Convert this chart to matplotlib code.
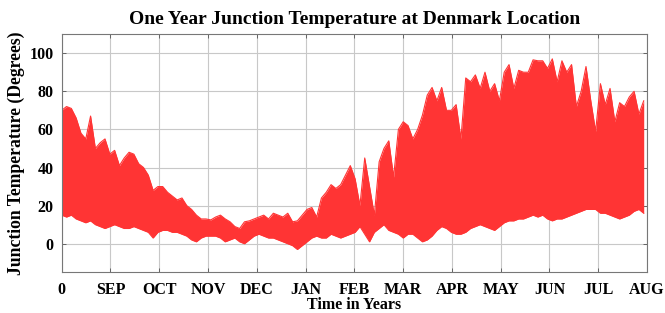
import numpy as np
import matplotlib
matplotlib.use("Agg")
import matplotlib.pyplot as plt

# day of the year (every 3rd day), daily max and min junction temperature
days = np.arange(0, 364, 3)
t_max = [70, 72, 71, 66, 58, 55, 67, 50, 53, 55, 47, 49, 41, 45, 48, 47, 42, 40, 36, 28, 30,
         30, 27, 25, 23, 24, 20, 18, 15, 13, 13, 12.5, 14, 15, 13, 11.5, 9, 8, 11.5, 12, 13,
         14, 15, 13, 16, 15, 14, 16, 11.5, 12, 15, 18, 19, 14, 24, 27, 31, 29, 31, 36, 41, 34,
         20, 45, 30, 15, 43, 50, 54, 35, 60, 64, 62, 55, 60, 67.5, 78, 82, 75, 82, 70, 70,
         73, 55, 87, 85, 88.6, 81.5, 90, 80, 84, 75, 90, 94, 81.5, 91, 90, 90, 96.5, 96, 96, 92,
         97, 85, 96, 90, 94, 72, 80, 93, 75, 59, 84, 73, 81.5, 64, 74, 72, 77, 80, 68, 75]
t_min = [15, 14, 15, 13, 12, 11, 12, 10, 9, 8, 9, 10, 9, 8, 8, 9, 8, 7, 6, 3, 6,
         7, 7, 6, 6, 5, 4, 2, 1, 3, 4, 4, 4, 3, 1, 2, 3, 1, 0, 2, 4,
         5, 4, 3, 3, 2, 1, 0, -1, -3, -1, 1, 3, 4, 3, 3, 5, 4, 3, 4, 5, 6,
         9, 5, 1, 6, 8, 10, 7, 6, 5, 3, 5, 5, 3, 1, 2, 4, 7, 9, 8, 6,
         5, 5, 6, 8, 9, 10, 9, 8, 7, 9, 11, 12, 12, 13, 13, 14, 15, 14, 15, 13,
         12, 13, 13, 14, 15, 16, 17, 18, 18, 18, 16, 16, 15, 14, 13, 14, 15, 17, 18, 16]
month_labels = ['0', 'SEP', 'OCT', 'NOV', 'DEC', 'JAN', 'FEB', 'MAR',
                'APR', 'MAY', 'JUN', 'JUL', 'AUG']

plt.rcParams['font.family'] = ['Liberation Serif', 'DejaVu Serif']
plt.rcParams['font.weight'] = 'bold'

fig = plt.figure(figsize=(6.65, 3.13), dpi=100)
ax = fig.add_axes([0.0928, 0.130, 0.880, 0.761])

red = '#ff3434'
ax.fill_between(days, t_min, t_max, color=red, lw=0)
ax.plot(days, t_max, color=red, lw=0.8)
ax.plot(days, t_min, color=red, lw=0.8)

ax.set_xlim(0, 365)
ax.set_ylim(-15, 110)
ax.set_xticks(np.arange(13) * 365 / 12)
ax.set_xticklabels(month_labels)
ax.set_yticks([0, 20, 40, 60, 80, 100])
ax.tick_params(direction='in', top=True, right=True, length=3, width=0.6,
               color='#555555', labelsize=11.5)
ax.tick_params(axis='x', pad=7)
ax.tick_params(axis='y', pad=6)
ax.grid(True, color='#c8c8c8', lw=0.8)
ax.set_axisbelow(True)
for s in ax.spines.values():
    s.set_color('#777777')
    s.set_linewidth(0.8)

ax.set_title('One Year Junction Temperature at Denmark Location',
             fontsize=14, fontweight='bold', pad=7)
ax.set_xlabel('Time in Years', fontsize=11.5, fontweight='bold', labelpad=-1)
ax.set_ylabel('Junction Temperature (Degrees)', fontsize=12.7, fontweight='bold', labelpad=3)

fig.savefig('out.png', dpi=100)
